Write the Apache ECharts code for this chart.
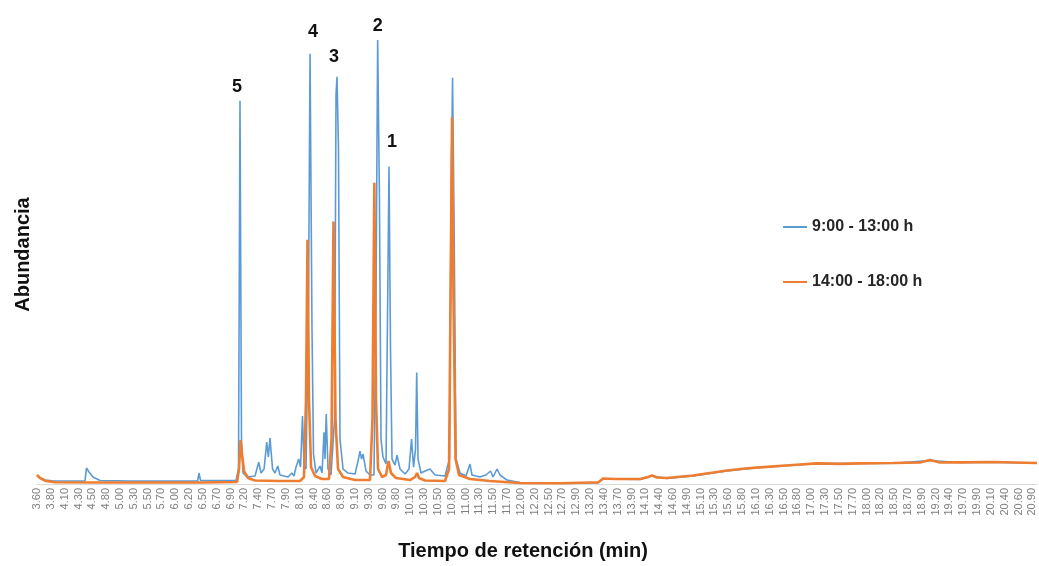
<!DOCTYPE html>
<html>
<head>
<meta charset="utf-8">
<title>Cromatograma</title>
<script src="https://cdn.jsdelivr.net/npm/echarts@6/dist/echarts.min.js"></script>
<style>
  html, body { margin: 0; padding: 0; background: #ffffff; }
  #chart { width: 1039px; height: 566px; }
</style>
</head>
<body>
<div id="chart"></div>
<script>
// Retention-time tick labels (one every 0.24 min, starting at 3.60)
const tickLabels = ['3.60','3.80','4.10','4.30','4.50','4.80','5.00','5.30','5.50','5.70','6.00','6.20','6.50','6.70','6.90','7.20','7.40','7.70','7.90','8.10','8.40','8.60','8.90','9.10','9.30','9.60','9.80','10.10','10.30','10.50','10.80','11.00','11.30','11.50','11.70','12.00','12.20','12.50','12.70','12.90','13.20','13.40','13.70','13.90','14.10','14.40','14.60','14.90','15.10','15.30','15.60','15.80','16.10','16.30','16.50','16.80','17.00','17.30','17.50','17.70','18.00','18.20','18.50','18.70','18.90','19.20','19.40','19.70','19.90','20.10','20.40','20.60','20.90'];

const seriesNames = ['9:00 - 13:00 h', '14:00 - 18:00 h'];

// Morning trace: [retention time (min), relative abundance]
const morningTrace = [
  [3.600,1.77],[3.652,1.25],[3.739,0.83],[3.860,0.67],[4.173,0.63],[4.433,0.63],[4.459,3.33],[4.503,2.50],
  [4.572,1.46],[4.694,0.73],[5.215,0.63],[5.909,0.63],[6.387,0.63],[6.413,2.29],[6.439,0.73],[7.055,0.73],
  [7.098,3.13],[7.124,80.0],[7.150,9.38],[7.176,2.29],[7.246,1.46],[7.385,1.67],[7.450,4.58],[7.489,2.29],
  [7.542,3.13],[7.588,8.75],[7.616,5.63],[7.645,9.58],[7.689,3.13],[7.732,2.29],[7.779,3.75],[7.819,1.88],
  [7.958,1.46],[8.023,2.29],[8.062,1.67],[8.097,3.54],[8.143,5.21],[8.175,3.54],[8.209,14.2],[8.235,3.96],
  [8.270,3.13],[8.314,38.5],[8.340,89.8],[8.374,32.3],[8.400,6.25],[8.444,2.29],[8.513,3.75],[8.548,2.29],
  [8.583,10.8],[8.600,5.21],[8.621,14.6],[8.652,3.13],[8.704,1.88],[8.765,13.5],[8.791,81.3],[8.808,85.0],
  [8.834,69.8],[8.860,9.38],[8.913,3.13],[8.999,2.29],[9.121,2.08],[9.173,4.79],[9.207,6.88],[9.234,5.21],
  [9.260,6.25],[9.312,2.71],[9.381,1.88],[9.450,1.88],[9.485,38.5],[9.514,92.7],[9.545,59.4],[9.572,9.38],
  [9.606,5.63],[9.659,4.17],[9.688,38.5],[9.711,66.3],[9.737,28.1],[9.763,5.21],[9.815,3.96],[9.850,6.04],
  [9.902,3.13],[9.989,2.08],[10.058,3.13],[10.102,9.38],[10.137,3.54],[10.171,7.29],[10.192,23.3],[10.215,5.21],
  [10.267,2.29],[10.336,2.71],[10.423,3.13],[10.510,1.88],[10.683,1.67],[10.761,5.21],[10.788,59.4],[10.814,84.8],
  [10.840,55.2],[10.874,5.21],[10.944,2.29],[11.048,1.67],[11.117,4.17],[11.151,1.88],[11.290,1.46],[11.394,1.88],
  [11.473,2.71],[11.517,1.46],[11.586,3.13],[11.638,1.88],[11.759,0.83],[11.985,0.31],[12.680,0.21],[13.340,0.25],
  [13.426,1.04],[14.069,0.94],[14.277,1.67],[14.538,1.15],[14.989,1.67],[15.579,2.71],[16.152,3.44],[16.725,3.90],
  [17.142,4.27],[17.888,4.27],[18.461,4.33],[19.103,4.90],[19.624,4.48],[20.197,4.54],[20.960,4.33]
];

// Afternoon trace: [retention time (min), relative abundance]
const afternoonTrace = [
  [3.600,1.88],[3.652,1.25],[3.756,0.63],[3.913,0.35],[4.694,0.31],[5.562,0.31],[6.430,0.31],[7.072,0.42],
  [7.107,3.13],[7.133,9.17],[7.159,6.25],[7.194,2.71],[7.263,1.25],[7.385,0.73],[7.819,0.63],[8.166,0.63],
  [8.235,1.46],[8.270,17.7],[8.296,51.0],[8.322,17.7],[8.357,3.54],[8.426,1.67],[8.548,1.04],[8.669,1.04],
  [8.713,9.38],[8.747,54.8],[8.782,13.5],[8.826,3.13],[8.913,1.46],[9.121,0.83],[9.381,0.83],[9.424,13.5],
  [9.456,62.9],[9.485,17.7],[9.520,3.13],[9.590,1.46],[9.659,1.88],[9.702,4.79],[9.746,2.29],[9.832,1.25],
  [10.076,0.83],[10.163,1.46],[10.197,2.29],[10.232,1.25],[10.336,0.73],[10.683,0.63],[10.753,3.13],[10.779,38.5],
  [10.805,76.5],[10.831,38.5],[10.866,5.21],[10.927,1.88],[11.117,1.04],[11.465,0.63],[11.985,0.21],[12.680,0.15],
  [13.201,0.31],[13.340,0.31],[13.426,1.15],[13.635,1.04],[14.069,1.04],[14.208,1.46],[14.277,1.77],[14.364,1.35],
  [14.538,1.25],[14.989,1.77],[15.284,2.29],[15.579,2.81],[15.892,3.23],[16.152,3.48],[16.725,3.96],[17.142,4.31],
  [17.541,4.21],[17.888,4.31],[18.461,4.38],[18.929,4.48],[19.103,5.00],[19.277,4.48],[19.624,4.52],[20.197,4.58],
  [20.960,4.38]
];

// Numbered compounds: [label, retention time of its apex in the morning trace]
const peakLabels = [['5', 7.124], ['4', 8.340], ['3', 8.808], ['2', 9.514], ['1', 9.711]];

const AXIS_MIN = 3.60;
const AXIS_STEP = 0.24;
const AXIS_MAX = 20.96;

const FONT = '"Liberation Sans", Arial, Helvetica, sans-serif';

// Label placement above each apex
const labelGap = { '5': 5, '4': 13, '3': 11, '2': 5, '1': 15 };
const labelShift = { '5': -3, '4': 3, '3': -3, '2': 0, '1': 3 };

function withPeakLabels(points) {
  return points.map(function (p) {
    const peak = peakLabels.find(function (l) { return l[1] === p[0]; });
    if (!peak) return p;
    return {
      value: p,
      label: {
        show: true,
        formatter: peak[0],
        position: 'top',
        distance: labelGap[peak[0]],
        offset: [labelShift[peak[0]], 0],
        fontFamily: FONT,
        fontSize: 18,
        fontWeight: 'bold',
        color: '#111111'
      }
    };
  });
}

const chart = echarts.init(document.getElementById('chart'), null, { renderer: 'canvas' });

chart.setOption({
  animation: false,
  backgroundColor: '#ffffff',
  grid: { left: 37, right: 2, top: 5, bottom: 81, containLabel: false },
  legend: {
    data: seriesNames,
    orient: 'vertical',
    left: 778,
    top: 212,
    icon: 'rect',
    itemWidth: 24,
    itemHeight: 2,
    itemGap: 35,
    selectedMode: false,
    textStyle: {
      fontFamily: FONT,
      fontSize: 16,
      fontWeight: 'bold',
      color: '#262626',
      lineHeight: 20
    }
  },
  xAxis: {
    type: 'value',
    min: AXIS_MIN,
    max: AXIS_MAX,
    interval: AXIS_STEP,
    name: 'Tiempo de retención (min)',
    nameLocation: 'middle',
    nameGap: 57,
    nameTextStyle: {
      fontFamily: FONT,
      fontSize: 20,
      fontWeight: 'bold',
      color: '#111111',
      padding: [0, 28, 0, 0]
    },
    axisLine: { show: true, lineStyle: { color: '#d9d9d9', width: 1 } },
    axisTick: { show: false },
    splitLine: { show: false },
    axisLabel: {
      rotate: 90,
      margin: 4,
      fontFamily: FONT,
      fontSize: 11,
      color: '#808080',
      showMaxLabel: false,
      formatter: function (value) {
        const i = Math.round((value - AXIS_MIN) / AXIS_STEP);
        return tickLabels[i] !== undefined ? tickLabels[i] : '';
      }
    }
  },
  yAxis: {
    type: 'value',
    min: 0,
    max: 100,
    name: 'Abundancia',
    nameLocation: 'middle',
    nameGap: 4,
    nameTextStyle: {
      fontFamily: FONT,
      fontSize: 20,
      fontWeight: 'bold',
      color: '#111111',
      padding: [0, 20, 0, 0]
    },
    axisLine: { show: false },
    axisTick: { show: false },
    axisLabel: { show: false },
    splitLine: { show: false }
  },
  series: [
    {
      name: seriesNames[0],
      type: 'line',
      data: withPeakLabels(morningTrace),
      showSymbol: true,
      symbol: 'circle',
      symbolSize: 0,
      silent: true,
      color: '#5b9bd5',
      lineStyle: { color: '#5b9bd5', width: 1.6 },
      emphasis: { disabled: true },
      z: 2
    },
    {
      name: seriesNames[1],
      type: 'line',
      data: afternoonTrace,
      showSymbol: false,
      silent: true,
      color: '#ed7d31',
      lineStyle: { color: '#ed7d31', width: 2.6 },
      emphasis: { disabled: true },
      z: 3
    }
  ]
});
</script>
</body>
</html>
